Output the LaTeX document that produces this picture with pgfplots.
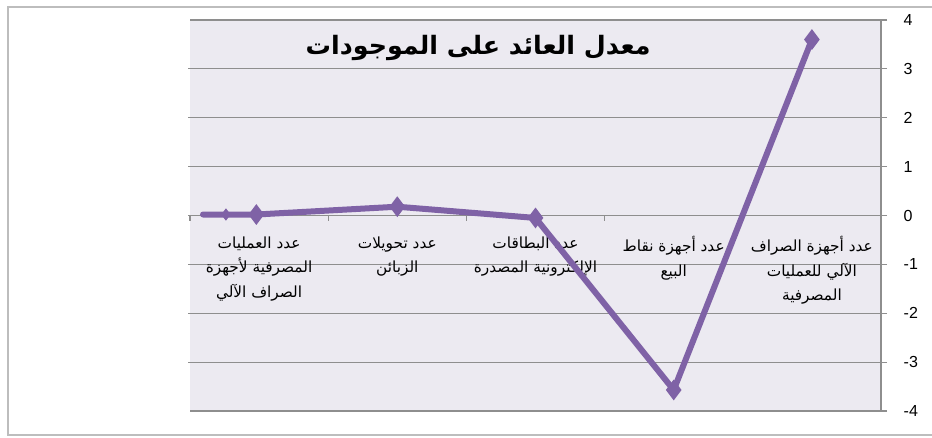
\documentclass[border=0pt]{standalone}
\usepackage{pgfplots}
\pgfplotsset{compat=1.18}
\usepackage{fontspec}
\setmainfont{Liberation Sans}
\newfontfamily\arabicfont[Script=Arabic]{DejaVu Sans}
\TeXXeTstate=1
\definecolor{linepurple}{HTML}{7F62A6}
\definecolor{plotbg}{HTML}{ECEAF1}
\definecolor{gridgray}{HTML}{8E8E8E}
\definecolor{framegray}{HTML}{BDBDBD}
\begin{document}
\begin{tikzpicture}[x=1pt,y=1pt]
\useasboundingbox (0,0) rectangle (699,327.75);
\draw[framegray, line width=1.3pt] (699,322.5) -- (6,322.5) -- (6,1.5) -- (699,1.5);
\begin{axis}[
  at={(142.5pt,19.5pt)}, anchor=south west,
  scale only axis, width=518.25pt, height=293.25pt,
  xmin=-0.5, xmax=4.5, ymin=-4, ymax=4,
  axis background/.style={fill=plotbg, draw=none},
  axis line style={draw=none},
  ytick={-4,-3,-2,-1,0,1,2,3,4},
  yticklabels={-4,-3,-2,-1,0,1,2,3,4},
  ytick pos=right, yticklabel pos=right,
  yticklabel style={font=\fontsize{12}{12}\selectfont, xshift=9pt},
  ymajorgrids, major grid style={gridgray, line width=0.9pt},
  tick align=outside,
  major tick length=4.5pt,
  tick style={gridgray, line width=0.9pt},
  xtick={0,1,2,3,4},
  major x tick style={draw=none},
  extra x ticks={4.5}, extra x tick labels={},
  extra x tick style={grid=major, major x tick style={draw=none}},
  xticklabels={
    {\beginR عدد العمليات\endR\\\beginR المصرفية لأجهزة\endR\\\beginR الصراف الآلي\endR},
    {\beginR عدد تحويلات\endR\\\beginR الزبائن\endR},
    {\beginR عدد البطاقات\endR\\\beginR الإلكترونية المصدرة\endR},
    {\beginR عدد أجهزة نقاط\endR\\\beginR البيع\endR},
    {\beginR عدد أجهزة الصراف\endR\\\beginR الآلي للعمليات\endR\\\beginR المصرفية\endR}
  },
  xticklabel style={align=center, anchor=north, yshift=139pt, font=\arabicfont\fontsize{11.5}{18.4}\selectfont},
  title={\beginR معدل العائد على الموجودات\endR},
  title style={at={(0.417,0.908)}, anchor=center, font=\arabicfont\bfseries\fontsize{19}{22}\selectfont},
  clip=false,
]
\foreach \xx in {0.5,1.5,2.5,3.5,4.5} {
  \edef\temp{\noexpand\draw[gridgray, line width=0.9pt] (axis cs:\xx,0) -- ++(0pt,-4pt);}
  \temp
}
\addplot[linepurple, line width=4.5pt, line cap=round, line join=round] coordinates {
  (-0.406,0.02) (-0.24,0.02) (-0.02,0.02) (1,0.18) (2,-0.05) (3,-3.57) (4,3.6)
};
\addplot[only marks, mark=diamond*, mark size=7pt, mark options={fill=linepurple, draw=linepurple, line width=1pt}] coordinates {
  (-0.02,0.02) (1,0.18) (2,-0.05) (3,-3.57) (4,3.6)
};
\addplot[only marks, mark=diamond*, mark size=4pt, mark options={fill=linepurple, draw=linepurple, line width=0.8pt}] coordinates {
  (-0.24,0.02)
};
\end{axis}
\fill[white] (139.5,20.4) rectangle (142.5,312.3);
\fill[plotbg] (142.5,20.4) rectangle (145,312.3);
\foreach \k in {1,...,7} {
  \draw[gridgray, line width=0.9pt] (141,19.5+36.65625*\k) -- (145,19.5+36.65625*\k);
}
\draw[gridgray, line width=0.9pt] (142.5,166.125) -- (142.5,162.125);
\end{tikzpicture}
\end{document}
